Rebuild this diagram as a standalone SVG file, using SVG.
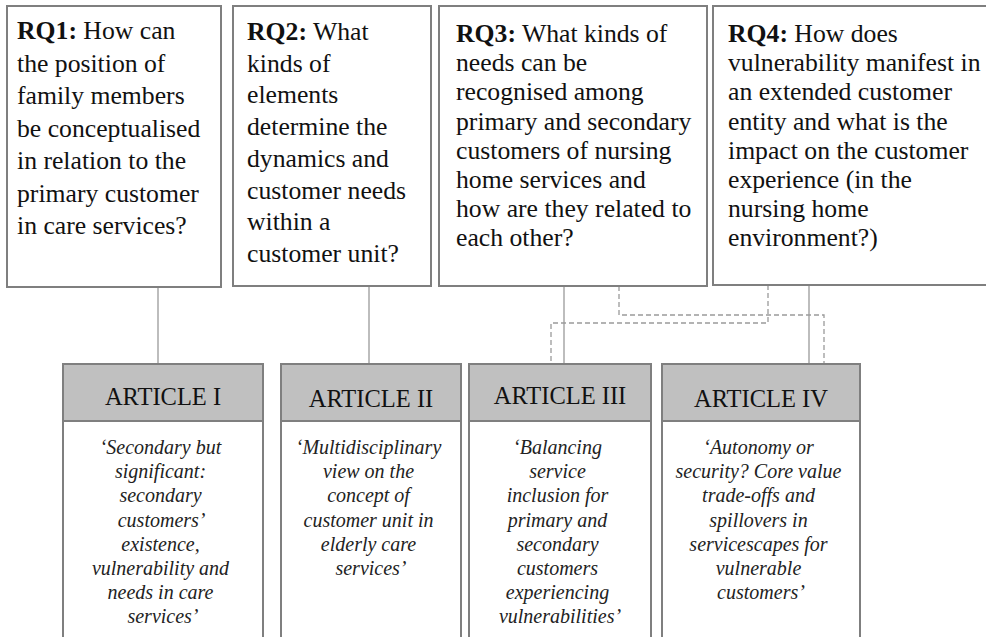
<svg xmlns="http://www.w3.org/2000/svg" width="986" height="637" viewBox="0 0 986 637">
  <style>
    .box { fill: #ffffff; stroke: #7f7f7f; stroke-width: 2; }
    .head { fill: #c0c0c0; stroke: #7f7f7f; stroke-width: 2; }
    .rq { font-family: "Liberation Serif", "Times New Roman", serif; font-size: 25.7px; fill: #111; }
    .rq .b { font-weight: bold; }
    .title { font-family: "Liberation Serif", "Times New Roman", serif; font-size: 24.5px; fill: #111; text-anchor: middle; }
    .quote { font-family: "Liberation Serif", "Times New Roman", serif; font-size: 20px; font-style: italic; fill: #222; text-anchor: middle; }
    .link { fill: none; stroke: #9a9a9a; stroke-width: 1.3; }
    .cross { fill: none; stroke: #9a9a9a; stroke-width: 1.3; stroke-dasharray: 5 3; }
  </style>

  <!-- links between questions and articles -->
  <g id="connectors">
    <line class="link" x1="158" y1="287" x2="158" y2="364"/>
    <line class="link" x1="369" y1="286" x2="369" y2="364"/>
    <line class="link" x1="564" y1="286" x2="564" y2="364"/>
    <line class="link" x1="809" y1="285" x2="809" y2="364"/>
    <path class="cross" d="M619 286 V315 H824 V364"/>
    <path class="cross" d="M768 285 V323 H551 V364"/>
  </g>

  <!-- research questions -->
  <g id="rq1">
    <rect class="box" x="7" y="6" width="214" height="281"/>
    <text class="rq" x="17" y="39">
      <tspan class="b">RQ1:</tspan> How can
      <tspan x="17" y="71.5">the position of</tspan>
      <tspan x="17" y="104">family members</tspan>
      <tspan x="17" y="136.5">be conceptualised</tspan>
      <tspan x="17" y="169">in relation to the</tspan>
      <tspan x="17" y="201.5">primary customer</tspan>
      <tspan x="17" y="234">in care services?</tspan>
    </text>
  </g>

  <g id="rq2">
    <rect class="box" x="233" y="6" width="198" height="280"/>
    <text class="rq" x="247" y="40">
      <tspan class="b">RQ2:</tspan> What
      <tspan x="247" y="71.7">kinds of</tspan>
      <tspan x="247" y="103.4">elements</tspan>
      <tspan x="247" y="135.1">determine the</tspan>
      <tspan x="247" y="166.8">dynamics and</tspan>
      <tspan x="247" y="198.5">customer needs</tspan>
      <tspan x="247" y="230.2">within a</tspan>
      <tspan x="247" y="261.9">customer unit?</tspan>
    </text>
  </g>

  <g id="rq3">
    <rect class="box" x="439" y="6" width="268" height="280"/>
    <text class="rq" x="456" y="42">
      <tspan class="b">RQ3:</tspan> What kinds of
      <tspan x="456" y="71.2">needs can be</tspan>
      <tspan x="456" y="100.4">recognised among</tspan>
      <tspan x="456" y="129.6">primary and secondary</tspan>
      <tspan x="456" y="158.8">customers of nursing</tspan>
      <tspan x="456" y="188">home services and</tspan>
      <tspan x="456" y="217.2">how are they related to</tspan>
      <tspan x="456" y="246.4">each other?</tspan>
    </text>
  </g>

  <g id="rq4">
    <rect class="box" x="713" y="6" width="280" height="279"/>
    <text class="rq" x="728" y="42">
      <tspan class="b">RQ4:</tspan> How does
      <tspan x="728" y="71.2">vulnerability manifest in</tspan>
      <tspan x="728" y="100.4">an extended customer</tspan>
      <tspan x="728" y="129.6">entity and what is the</tspan>
      <tspan x="728" y="158.8">impact on the customer</tspan>
      <tspan x="728" y="188">experience (in the</tspan>
      <tspan x="728" y="217.2">nursing home</tspan>
      <tspan x="728" y="246.4">environment?)</tspan>
    </text>
  </g>

  <!-- articles -->
  <g id="article1">
    <rect class="box" x="63" y="364" width="200" height="280"/>
    <rect class="head" x="63" y="364" width="200" height="57"/>
    <text class="title" x="163" y="405">ARTICLE I</text>
    <text class="quote" x="163" y="454">
      <tspan x="163" y="454">‘Secondary but</tspan>
      <tspan x="163" y="478.2">significant:</tspan>
      <tspan x="163" y="502.4">secondary</tspan>
      <tspan x="163" y="526.6">customers’</tspan>
      <tspan x="163" y="550.8">existence,</tspan>
      <tspan x="163" y="575">vulnerability and</tspan>
      <tspan x="163" y="599.2">needs in care</tspan>
      <tspan x="163" y="623.4">services’</tspan>
    </text>
  </g>

  <g id="article2">
    <rect class="box" x="281" y="364" width="180" height="280"/>
    <rect class="head" x="281" y="364" width="180" height="57"/>
    <text class="title" x="371" y="407">ARTICLE II</text>
    <text class="quote" x="371" y="454">
      <tspan x="371" y="454">‘Multidisciplinary</tspan>
      <tspan x="371" y="478.2">view on the</tspan>
      <tspan x="371" y="502.4">concept of</tspan>
      <tspan x="371" y="526.6">customer unit in</tspan>
      <tspan x="371" y="550.8">elderly care</tspan>
      <tspan x="371" y="575">services’</tspan>
    </text>
  </g>

  <g id="article3">
    <rect class="box" x="469" y="364" width="182" height="280"/>
    <rect class="head" x="469" y="364" width="182" height="57"/>
    <text class="title" x="560" y="404">ARTICLE III</text>
    <text class="quote" x="560" y="454">
      <tspan x="560" y="454">‘Balancing</tspan>
      <tspan x="560" y="478.2">service</tspan>
      <tspan x="560" y="502.4">inclusion for</tspan>
      <tspan x="560" y="526.6">primary and</tspan>
      <tspan x="560" y="550.8">secondary</tspan>
      <tspan x="560" y="575">customers</tspan>
      <tspan x="560" y="599.2">experiencing</tspan>
      <tspan x="560" y="623.4">vulnerabilities’</tspan>
    </text>
  </g>

  <g id="article4">
    <rect class="box" x="662" y="364" width="198" height="280"/>
    <rect class="head" x="662" y="364" width="198" height="57"/>
    <text class="title" x="761" y="407">ARTICLE IV</text>
    <text class="quote" x="761" y="454">
      <tspan x="761" y="454">‘Autonomy or</tspan>
      <tspan x="761" y="478.2">security? Core value</tspan>
      <tspan x="761" y="502.4">trade-offs and</tspan>
      <tspan x="761" y="526.6">spillovers in</tspan>
      <tspan x="761" y="550.8">servicescapes for</tspan>
      <tspan x="761" y="575">vulnerable</tspan>
      <tspan x="761" y="599.2">customers’</tspan>
    </text>
  </g>
</svg>
